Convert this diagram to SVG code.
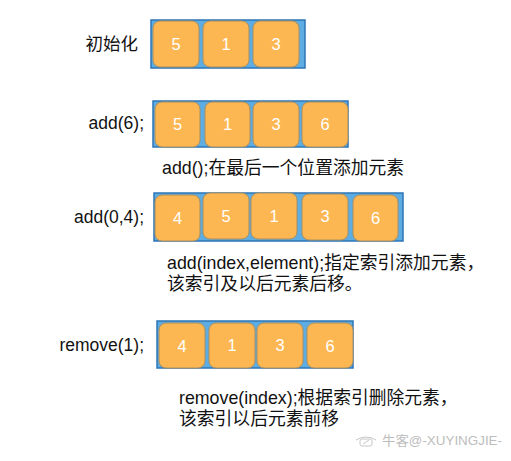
<svg xmlns="http://www.w3.org/2000/svg" width="511" height="461" viewBox="0 0 511 461">
<style>
  text { font-family: "Liberation Sans", "Noto Sans CJK SC", sans-serif; }
  .bar { fill: #5DADE2; stroke: #2E75B6; stroke-width: 1.5; }
  .cell rect { fill: #FDB752; stroke: #A88E60; stroke-width: 1; }
  .cell text { fill: #FFFFFF; font-size: 16.5px; text-anchor: middle; }
  .lbl { fill: #111111; font-size: 17.5px; text-anchor: end; }
  .desc { fill: #111111; font-size: 17.8px; }
  .wm { fill: #BDBDBD; font-size: 13px; }
</style>
<rect width="511" height="461" fill="#FFFFFF"/>

<!-- Row 1: 初始化 -->
<g id="label-init"><text class="lbl" x="138" y="49.5">初始化</text></g>
<g id="array-init">
  <rect class="bar" x="151" y="20" width="154" height="48"/>
  <g class="cell" id="init-c1"><rect x="153" y="21" width="46" height="46" rx="7"/><text x="176" y="50">5</text></g>
  <g class="cell" id="init-c2"><rect x="203" y="21" width="46" height="46" rx="7"/><text x="226" y="50">1</text></g>
  <g class="cell" id="init-c3"><rect x="253" y="21" width="46" height="46" rx="7"/><text x="276" y="50">3</text></g>
</g>

<!-- Row 2: add(6) -->
<g id="label-add6"><text class="lbl" x="144" y="129">add(6);</text></g>
<g id="array-add6">
  <rect class="bar" x="153" y="101" width="195" height="46"/>
  <g class="cell" id="add6-c1"><rect x="155" y="102" width="45" height="45" rx="7"/><text x="177.5" y="130">5</text></g>
  <g class="cell" id="add6-c2"><rect x="205" y="102" width="45" height="45" rx="7"/><text x="227.5" y="130">1</text></g>
  <g class="cell" id="add6-c3"><rect x="253" y="102" width="46" height="45" rx="7"/><text x="276" y="130">3</text></g>
  <g class="cell" id="add6-c4"><rect x="302" y="102" width="46" height="45" rx="7"/><text x="325" y="130">6</text></g>
</g>
<g id="desc-add6"><text class="desc" x="162" y="174">add();在最后一个位置添加元素</text></g>

<!-- Row 3: add(0,4) -->
<g id="label-add04"><text class="lbl" x="144" y="222.5">add(0,4);</text></g>
<g id="array-add04">
  <rect class="bar" x="154" y="193" width="249" height="48"/>
  <g class="cell" id="add04-c1"><rect x="155" y="195" width="45" height="46" rx="7"/><text x="177.5" y="224">4</text></g>
  <g class="cell" id="add04-c2"><rect x="203" y="193" width="46" height="46" rx="7"/><text x="226" y="222">5</text></g>
  <g class="cell" id="add04-c3"><rect x="251" y="193" width="46" height="46" rx="7"/><text x="274" y="222">1</text></g>
  <g class="cell" id="add04-c4"><rect x="302" y="194" width="46" height="46" rx="7"/><text x="325" y="222">3</text></g>
  <g class="cell" id="add04-c5"><rect x="353" y="195" width="45" height="46" rx="7"/><text x="375.5" y="224">6</text></g>
</g>
<g id="desc-add04">
  <text class="desc" x="167" y="269">add(index,element);指定索引添加元素，</text>
  <text class="desc" x="167" y="289.5">该索引及以后元素后移。</text>
</g>

<!-- Row 4: remove(1) -->
<g id="label-remove1"><text class="lbl" x="144" y="351">remove(1);</text></g>
<g id="array-remove1">
  <rect class="bar" x="157" y="321" width="196" height="47"/>
  <g class="cell" id="rm-c1"><rect x="159" y="323" width="46" height="45" rx="7"/><text x="182" y="351.5">4</text></g>
  <g class="cell" id="rm-c2"><rect x="209" y="323" width="46" height="45" rx="7"/><text x="232" y="351">1</text></g>
  <g class="cell" id="rm-c3"><rect x="257" y="323" width="46" height="45" rx="7"/><text x="280" y="351">3</text></g>
  <g class="cell" id="rm-c4"><rect x="307" y="323" width="46" height="45" rx="7"/><text x="330" y="351.5">6</text></g>
</g>
<g id="desc-remove1">
  <text class="desc" x="179" y="404">remove(index);根据索引删除元素，</text>
  <text class="desc" x="179" y="425">该索引以后元素前移</text>
</g>

<!-- watermark -->
<g id="watermark">
  <g fill="none" stroke="#C8C8C8" stroke-width="1">
    <path d="M356 440 q10 -6 20 0"/>
    <rect x="360" y="439" width="12" height="7" rx="2"/>
    <path d="M363 444 l6 -4"/>
  </g>
  <text class="wm" x="382" y="445" textLength="120" lengthAdjust="spacingAndGlyphs">牛客@-XUYINGJIE-</text>
</g>
</svg>
